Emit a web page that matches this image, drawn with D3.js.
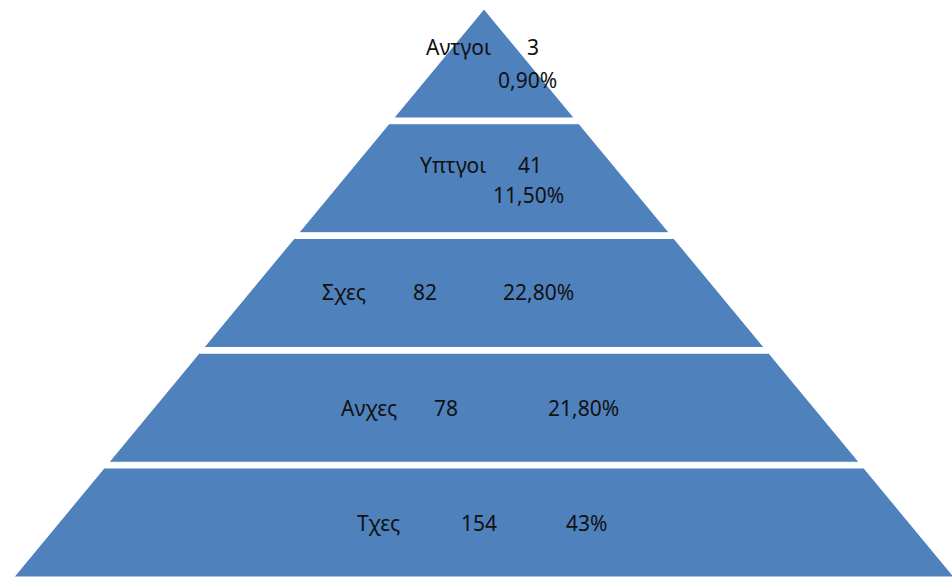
<!DOCTYPE html>
<html><head><meta charset="utf-8">
<script src="https://cdn.jsdelivr.net/npm/d3@7"></script>
<style>
html,body{margin:0;padding:0;background:#fff;}
svg{display:block;}
</style></head>
<body>
<script>
// Data
const categories = ["Αντγοι", "Υπτγοι", "Σχες", "Ανχες", "Τχες"];
const counts = [3, 41, 82, 78, 154];
const percents = ["0,90%", "11,50%", "22,80%", "21,80%", "43%"];

// Label layout (offsets from pyramid centre x / band top y)
const nameDx  = [-58, -64, -162, -143, -127];
const countDx = [43, 34, -71, -50, -23];
const pctDx   = [14, 9, 19, 64, 82];
const line1Dy = [46, 49, 62, 63, 63];
const line2Dy = [79, 79, 62, 63, 63];

const W = 952, H = 577;
const cx = 484, apexY = 9, baseY = 577;

const svg = d3.select("body").append("svg").attr("width", W).attr("height", H);

const y = d3.scaleBand().domain(categories).range([apexY, baseY]).paddingInner(0.05).paddingOuter(0);
const half = d3.scaleLinear().domain([apexY, baseY]).range([0, 470]);

const g = svg.selectAll("g.layer").data(categories).enter().append("g").attr("class", "layer");

g.append("path")
  .attr("d", (d) => {
    const t = y(d), b = y(d) + y.bandwidth();
    const ht = half(t), hb = half(b);
    return `M${cx - ht},${t}L${cx + ht},${t}L${cx + hb},${b}L${cx - hb},${b}Z`;
  })
  .attr("fill", "#4F81BD")
  .attr("stroke", "#ffffff")
  .attr("stroke-width", 1);

const txt = g.append("text")
  .attr("font-family", "'Noto Sans', 'DejaVu Sans', sans-serif")
  .attr("font-size", 21)
  .attr("fill", "#111");

txt.append("tspan")
  .attr("x", (d, i) => cx + nameDx[i])
  .attr("y", (d, i) => y(d) + line1Dy[i])
  .text(d => d);
txt.append("tspan")
  .attr("x", (d, i) => cx + countDx[i])
  .attr("y", (d, i) => y(d) + line1Dy[i])
  .text((d, i) => counts[i]);
txt.append("tspan")
  .attr("x", (d, i) => cx + pctDx[i])
  .attr("y", (d, i) => y(d) + line2Dy[i])
  .text((d, i) => percents[i]);
</script>
</body></html>
